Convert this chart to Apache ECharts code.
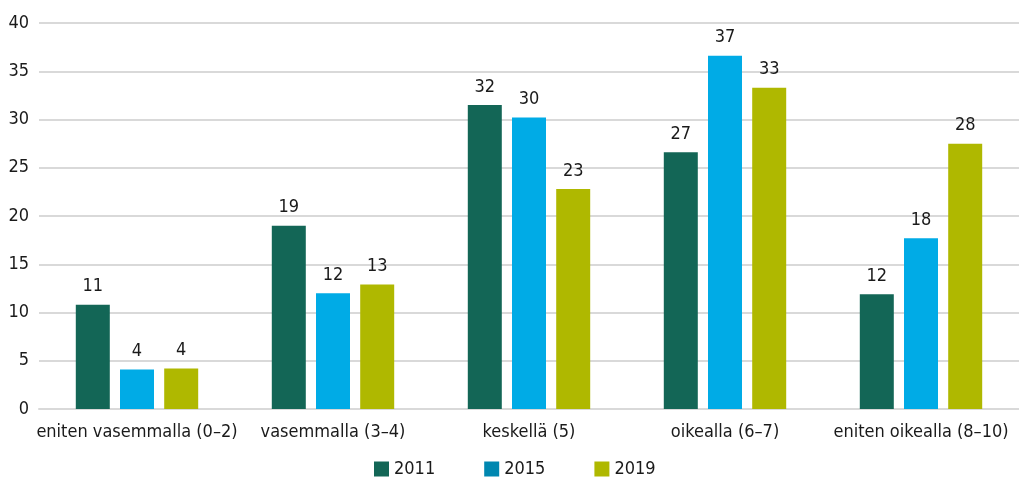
<!DOCTYPE html>
<html>
<head>
<meta charset="utf-8">
<script src="https://cdn.jsdelivr.net/npm/echarts@6/dist/echarts.min.js"></script>
<style>
  html, body { margin: 0; padding: 0; background: #fff; }
  #chart { width: 1019px; height: 479px; }
</style>
</head>
<body>
<div id="chart"></div>
<script>
var categories = ['eniten vasemmalla (0–2)', 'vasemmalla (3–4)', 'keskellä (5)', 'oikealla (6–7)', 'eniten oikealla (8–10)'];
var years = ['2011', '2015', '2019'];
var v2011 = [10.8, 19.0, 31.5, 26.6, 11.9];
var v2015 = [4.1, 12.0, 30.2, 36.6, 17.7];
var v2019 = [4.2, 12.9, 22.8, 33.3, 27.5];
var yTicks = { min: 0, max: 40, interval: 5 };

var barColors = ['#136656', '#00abe6', '#afb800'];
var legendColors = ['#136656', '#0087b0', '#afb800'];
var FONT = '"Liberation Sans Narrow", "DejaVu Sans Condensed", sans-serif';

var chart = echarts.init(document.getElementById('chart'));

function makeSeries(name, data, i){
  return {
    name: name,
    type: 'bar',
    data: data,
    barWidth: 34,
    barGap: '30%',
    itemStyle: { color: barColors[i] },
    label: {
      show: true,
      position: 'top',
      distance: 9,
      color: '#1a1a1a',
      fontFamily: FONT,
      fontSize: 18,
      formatter: function(p){ return Math.round(p.value); }
    }
  };
}

chart.setOption({
  animation: false,
  grid: { left: 39, right: 0, top: 23, bottom: 70, containLabel: false },
  legend: {
    top: 460,
    left: 374,
    padding: 0,
    icon: 'rect',
    itemWidth: 15,
    itemHeight: 15,
    itemGap: 49,
    textStyle: { fontFamily: FONT, fontSize: 18, color: '#1a1a1a' },
    data: years.map(function(y, i){
      return { name: y, itemStyle: { color: legendColors[i] } };
    })
  },
  xAxis: {
    type: 'category',
    data: categories,
    axisTick: { show: false },
    axisLine: { lineStyle: { color: '#d9d9d9', width: 2 } },
    axisLabel: { color: '#1a1a1a', fontFamily: FONT, fontSize: 18, margin: 14, interval: 0 }
  },
  yAxis: {
    type: 'value',
    min: yTicks.min,
    max: yTicks.max,
    interval: yTicks.interval,
    axisLine: { show: false },
    axisTick: { show: false },
    axisLabel: { color: '#1a1a1a', fontFamily: FONT, fontSize: 18, margin: 10 },
    splitLine: { lineStyle: { color: '#d9d9d9', width: 2 } }
  },
  series: [
    makeSeries(years[0], v2011, 0),
    makeSeries(years[1], v2015, 1),
    makeSeries(years[2], v2019, 2)
  ]
});
</script>
</body>
</html>
